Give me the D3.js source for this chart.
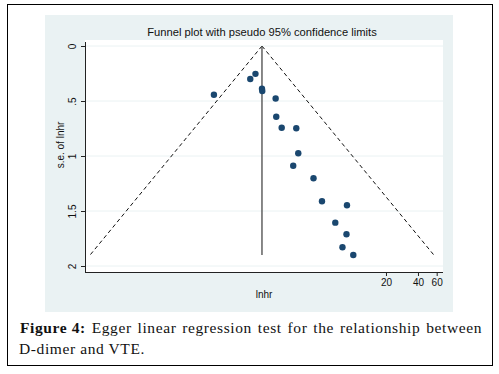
<!DOCTYPE html>
<html><head><meta charset="utf-8">
<script src="https://cdn.jsdelivr.net/npm/d3@7"></script>
<style>body{margin:0;background:#fff}svg{display:block}</style>
</head><body>
<svg id="c" width="499" height="374"></svg>
<script>
// Study estimates: hazard ratio (exp of lnhr) and standard error of lnhr
const hr = [0.481, 1.057, 1.183, 1.362, 1.371, 1.832, 1.856, 2.088, 2.864, 2.99, 2.68, 4.16, 5.00, 8.59, 6.67, 8.50, 7.79, 9.85];
const se = [0.443, 0.300, 0.253, 0.388, 0.409, 0.477, 0.643, 0.743, 0.748, 0.975, 1.088, 1.202, 1.412, 1.448, 1.606, 1.712, 1.830, 1.900];
const pooledHR = 1.362;
const seMax = 1.9;
const xTicks = [20, 40, 60];
const yTicks = [0, 0.5, 1, 1.5, 2];
const yTickLabels = ["0", ".5", "1", "1.5", "2"];
const titleText = "Funnel plot with pseudo 95% confidence limits";
const xLabel = "lnhr";
const yLabel = "s.e. of lnhr";
const captionBold = "Figure 4:";
const captionLine1 = "Egger linear regression test for the relationship between";
const captionLine2 = "D-dimer and VTE.";

const svg = d3.select("#c");
const sans = "'Liberation Sans', Arial, sans-serif";
const serif = "'Liberation Serif', 'Times New Roman', serif";

// outer frame
svg.append("rect").attr("x",7.5).attr("y",4.5).attr("width",485).attr("height",361)
  .attr("fill","#fff").attr("stroke","#000").attr("stroke-width",1);
// graph region
svg.append("rect").attr("x",45).attr("y",15).attr("width",408).attr("height",297).attr("fill","#eaf2f3");
// plot region
const L=85,R=443,T=40,B=272;
svg.append("rect").attr("x",L).attr("y",T).attr("width",R-L).attr("height",B-T).attr("fill","#fff");

const x = d3.scaleLog().domain([0.02944, 68.8]).range([L, R]);
const y = d3.scaleLinear().domain([0, 2]).range([46, 266]);

// gridlines
svg.append("g").selectAll("line").data(yTicks).join("line")
  .attr("x1",L).attr("x2",R).attr("y1",d=>y(d)).attr("y2",d=>y(d))
  .attr("stroke","#eaf2f3").attr("stroke-width",1);

// y axis
const yAxis = svg.append("g").attr("transform",`translate(${L},0)`)
  .call(d3.axisLeft(y).tickValues(yTicks).tickFormat((d,i)=>yTickLabels[i]).tickSize(4).tickSizeOuter(0));
yAxis.select(".domain").attr("d",`M0.5,${T+2}V${B}`).attr("stroke","#222");
yAxis.selectAll(".tick line").attr("stroke","#222");
yAxis.selectAll(".tick text").attr("font-family",sans).attr("font-size",10).attr("fill","#111")
  .attr("transform","rotate(-90)").attr("x",0).attr("dy",0).attr("y",-9).attr("text-anchor","middle");

// x axis
const xAxis = svg.append("g").attr("transform",`translate(0,${B})`)
  .call(d3.axisBottom(x).tickValues(xTicks).tickFormat(d3.format("d")).tickSize(4).tickSizeOuter(0));
xAxis.select(".domain").attr("d",`M${L},0.5H${R}`).attr("stroke","#222");
xAxis.selectAll(".tick line").attr("stroke","#222");
xAxis.selectAll(".tick text").attr("font-family",sans).attr("font-size",10).attr("fill","#111").attr("y",7);

// axis titles
svg.append("text").attr("x",264).attr("y",298).attr("text-anchor","middle")
  .attr("font-family",sans).attr("font-size",10).attr("fill","#111").text(xLabel);
svg.append("text").attr("transform","translate(64,145) rotate(-90)").attr("text-anchor","middle")
  .attr("font-family",sans).attr("font-size",10).attr("fill","#111").text(yLabel);

// title
svg.append("text").attr("x",262).attr("y",36).attr("text-anchor","middle")
  .attr("font-family",sans).attr("font-size",11.2).attr("fill","#111").text(titleText);

// funnel limits
const lnc = Math.log(pooledHR);
const funnelL = [[Math.exp(lnc), 0],[Math.exp(lnc-1.96*seMax), seMax]];
const funnelR = [[Math.exp(lnc), 0],[Math.exp(lnc+1.96*seMax), seMax]];
const line = d3.line().x(d=>x(d[0])).y(d=>y(d[1]));
[funnelL, funnelR].forEach(p=>svg.append("path").attr("d",line(p)).attr("fill","none")
  .attr("stroke","#111").attr("stroke-width",1).attr("stroke-dasharray","4,3"));
// pooled line
svg.append("path").attr("d",line([[pooledHR,0],[pooledHR,seMax]])).attr("stroke","#555").attr("stroke-width",1.4);

// points
svg.append("g").selectAll("circle").data(hr.map((h,i)=>[h,se[i]])).join("circle")
  .attr("cx",d=>x(d[0])).attr("cy",d=>y(d[1])).attr("r",3.2).attr("fill","#1a476f");

// caption (justified line 1)
const cL = 20, cR = 482;
const words = [{t:captionBold,b:true}].concat(captionLine1.split(" ").map(t=>({t,b:false})));
const g1 = svg.append("g");
const nodes = words.map(w=>g1.append("text").attr("y",333).attr("font-family",serif).attr("font-size",15.5)
  .attr("letter-spacing",0.6).attr("font-weight",w.b?"bold":"normal").attr("fill","#111").text(w.t));
const widths = nodes.map(n=>n.node().getComputedTextLength());
const gap = (cR-cL-d3.sum(widths))/(nodes.length-1);
let cx = cL;
nodes.forEach((n,i)=>{n.attr("x",cx); cx += widths[i]+gap;});
svg.append("text").attr("x",cL-1).attr("y",354).attr("font-family",serif).attr("font-size",15.5)
  .attr("letter-spacing",0.6).attr("fill","#111").text(captionLine2);
</script>
</body></html>
